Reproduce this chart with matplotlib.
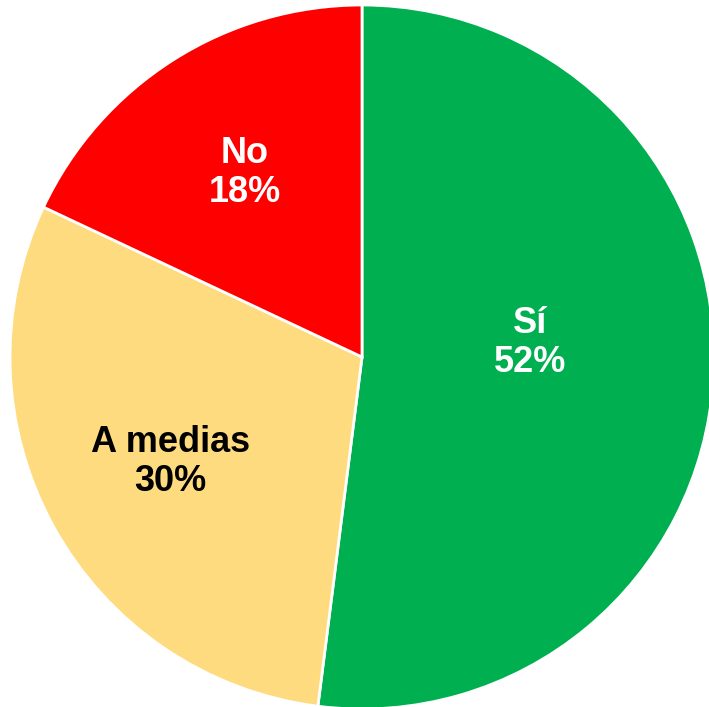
import matplotlib.pyplot as plt

labels = ['Sí', 'A medias', 'No']
sizes = [52, 30, 18]
colors = ['#00B050', '#FFDB7F', '#FF0000']
text_colors = ['white', 'black', 'white']

fig = plt.figure(figsize=(7.09, 7.07), dpi=100)
ax = fig.add_axes([10 / 709, -2 / 707, 704 / 709, 704 / 707])

wedges, texts, autotexts = ax.pie(
    sizes, colors=colors, startangle=90, counterclock=False,
    autopct=lambda p: '', pctdistance=0.62,
    wedgeprops=dict(edgecolor='white', linewidth=2))

for i, t in enumerate(autotexts):
    t.set_text('%s\n%d%%' % (labels[i], sizes[i]))
    t.set_color(text_colors[i])
    t.set_fontsize(26)
    t.set_fontweight('bold')
    t.set_family('Liberation Sans')
    t.set_linespacing(1.15)

# the big slice's label sits a bit closer to the centre
x, y = autotexts[0].get_position()
autotexts[0].set_position((x * 0.77, y * 0.77 + 0.07))

ax.set_xlim(-1, 1)
ax.set_ylim(-1, 1)
ax.set_aspect('equal')
ax.axis('off')

fig.savefig('out.png', dpi=100)
